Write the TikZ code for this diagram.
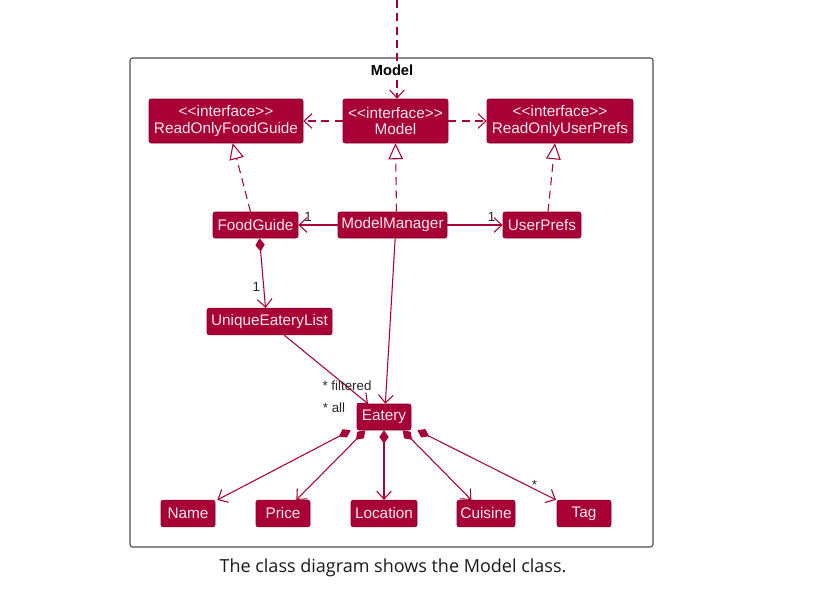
\documentclass[tikz,border=0pt]{standalone}
\usepackage{fontspec}
\setmainfont{Liberation Sans}
\newfontfamily\capfont{Open Sans}
\usetikzlibrary{arrows.meta}
\definecolor{umlred}{HTML}{A80036}
\definecolor{umltext}{HTML}{FBE8EC}
\newcommand{\stereo}[1]{{<}{<}#1{>}{>}}
\tikzset{
  cls/.style={fill=umlred, draw=umlred!80!black, rounded corners=1.5pt, text=umltext,
    inner sep=0pt, font=\fontsize{11.5}{12.5}\selectfont, align=center},
  dep/.style={umlred, thick, dash pattern=on 6pt off 4pt, -{Straight Barb[length=6pt,width=11pt]}},
  real/.style={umlred, thick, dash pattern=on 6pt off 4pt, -{Triangle[open,length=12pt,width=11pt,fill=white]}},
  assoc/.style={umlred, thick, -{Straight Barb[length=6pt,width=11pt]}},
  comp/.style={umlred, thick, {Diamond[length=10pt,width=7pt]}-{Straight Barb[length=6pt,width=11pt]}},
  mult/.style={font=\fontsize{10}{11}\selectfont, text=black!85}
}
\begin{document}
\begin{tikzpicture}[x=0.75pt, y=-0.75pt]
  \useasboundingbox (0,0) rectangle (834,596);
  % package frame
  \draw[black!70, line width=0.8pt, rounded corners=2pt] (130,58) rectangle (653,547);
  % interfaces
  \node[cls, minimum width=115.5pt, minimum height=33pt] (rofg) at (226,121) {\stereo{interface}\\ReadOnlyFoodGuide};
  \node[cls, minimum width=78.75pt, minimum height=33pt] (model) at (395.5,121) {\stereo{interface}\\Model};
  \node[cls, minimum width=109.5pt, minimum height=33pt] (roup) at (560,121) {\stereo{interface}\\ReadOnlyUserPrefs};
  % classes
  \node[cls, minimum width=63.75pt, minimum height=19.5pt] (fg) at (255.5,225) {FoodGuide};
  \node[cls, minimum width=81.75pt, minimum height=19.5pt] (mm) at (392.5,225) {ModelManager};
  \node[cls, minimum width=58.5pt, minimum height=19.5pt] (up) at (542,225) {UserPrefs};
  \node[cls, minimum width=93.75pt, minimum height=20pt] (uel) at (269.5,321.5) {UniqueEateryList};
  \node[cls, minimum width=40.5pt, minimum height=19.5pt] (eatery) at (384,417) {Eatery};
  \node[cls, minimum width=40.5pt, minimum height=20pt] (name) at (188,513.5) {Name};
  \node[cls, minimum width=40.5pt, minimum height=20pt] (price) at (283,513.5) {Price};
  \node[cls, minimum width=49.5pt, minimum height=20pt] (loc) at (384,513.5) {Location};
  \node[cls, minimum width=43.5pt, minimum height=20pt] (cuis) at (486,513.5) {Cuisine};
  \node[cls, minimum width=40.5pt, minimum height=20pt] (tag) at (584,513.5) {Tag};
  \coordinate (top) at (397,0);
  % dependencies
  \draw[dep] (top) -- (model.north -| top);
  \node[fill=white, inner sep=1pt, font=\bfseries\fontsize{11}{12}\selectfont] (title) at (392,70) {Model};
  \draw[dep] (model) -- (rofg);
  \draw[dep] (model) -- (roup);
  % realizations
  \draw[real] ([xshift=-3.75pt]fg.north) -- ([xshift=5pt]rofg.south);
  \draw[real] ([xshift=3pt]mm.north) -- (model.south);
  \draw[real] ([xshift=4.5pt]up.north) -- ([xshift=-3.75pt]roup.south);
  % associations
  \draw[assoc] (mm) -- (fg) node[mult, pos=0.75, above=-1pt] {1};
  \draw[assoc] (mm) -- (up) node[mult, pos=0.8, above=-1pt] {1};
  \draw[comp] ([xshift=3pt]fg.south) -- ([xshift=-3pt]uel.north) node[mult, pos=0.7, left=-1pt] {1};
  \draw[assoc] ([xshift=11pt]uel.south) -- ([xshift=-12pt]eatery.north);
  \node[mult] (filt) at (347,386) {* filtered};
  \node[mult] (all) at (334,408) {* all};
  \draw[assoc] ([xshift=2pt]mm.south) -- ([xshift=1pt]eatery.north);
  % eatery attributes
  \draw[comp] ([xshift=-25pt]eatery.south) -- ([xshift=22pt]name.north);
  \draw[comp] ([xshift=-14pt]eatery.south) -- ([xshift=10pt]price.north);
  \draw[comp] (eatery.south) -- (loc.north);
  \draw[comp] ([xshift=14pt]eatery.south) -- ([xshift=-11pt]cuis.north);
  \draw[comp] ([xshift=25pt]eatery.south) -- ([xshift=-21pt]tag.north) node[mult, pos=0.88, above left=-2pt] {*};
  % caption
  \node[font=\capfont\fontsize{13.5}{15}\selectfont, text=black!90] (caption) at (393,568) {The class diagram shows the Model class.};
\end{tikzpicture}
\end{document}
